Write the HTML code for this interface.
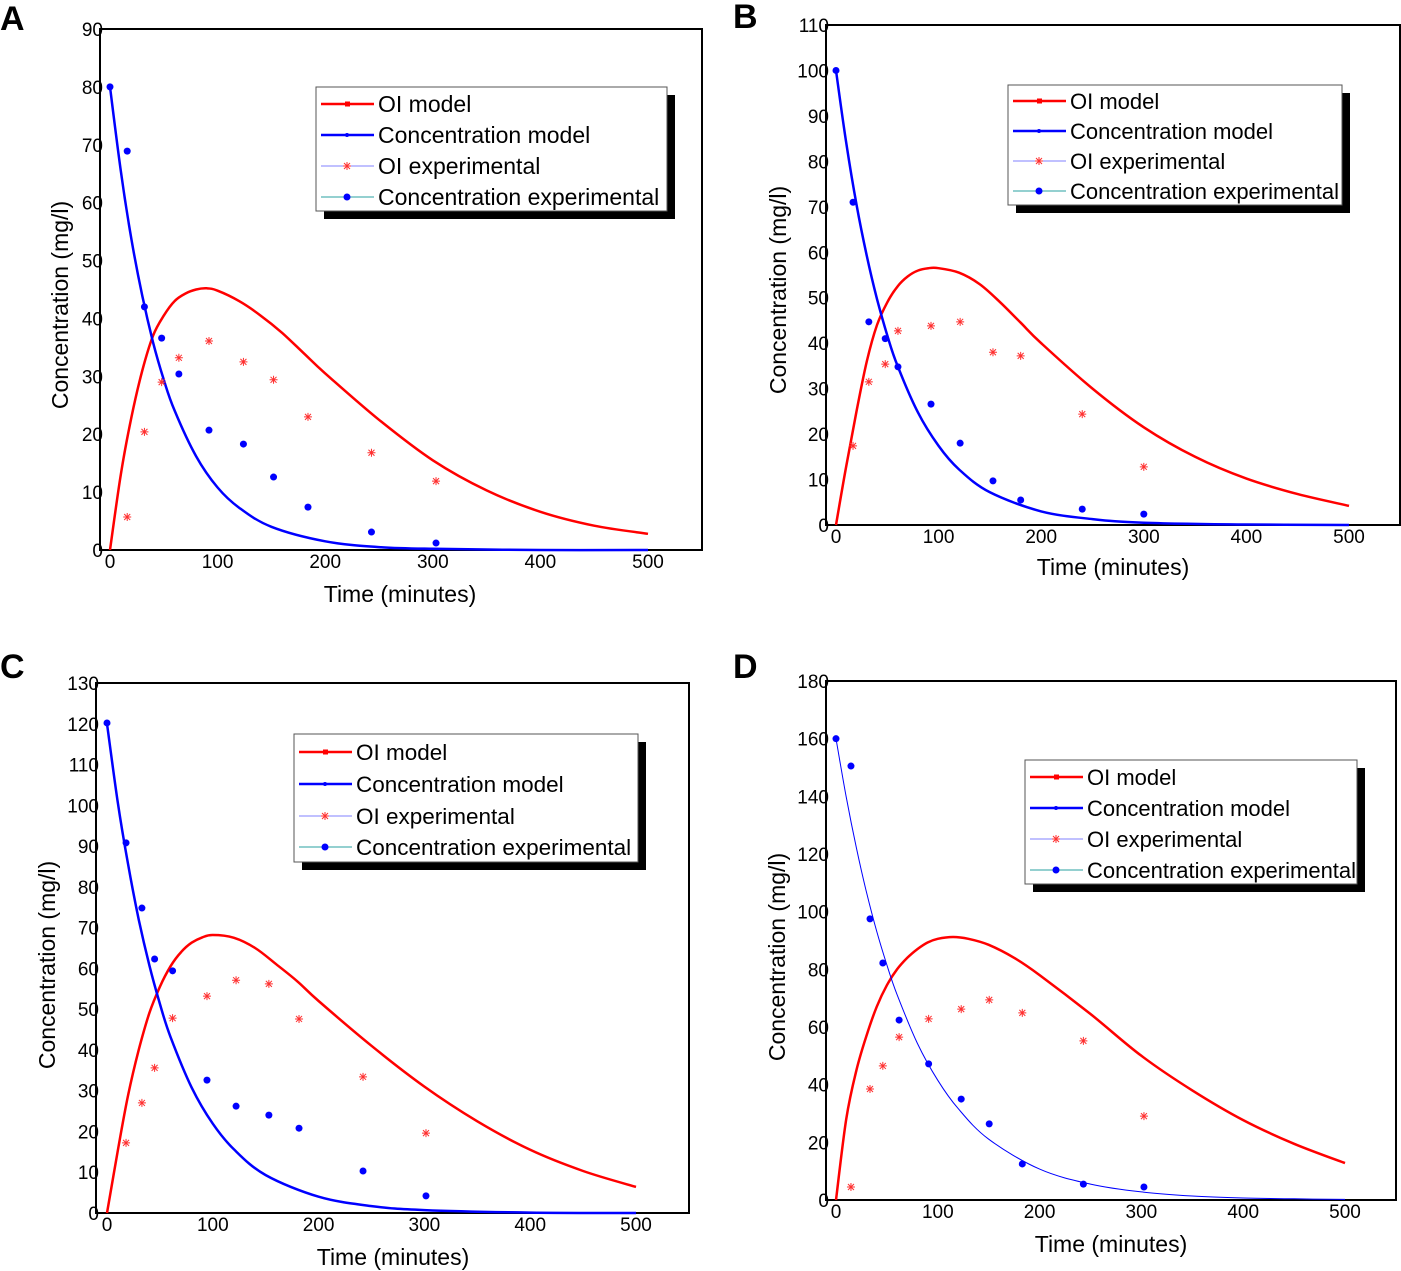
<!DOCTYPE html>
<html><head><meta charset="utf-8"><style>
html,body{margin:0;padding:0;background:#fff;}
svg{display:block;font-family:"Liberation Sans",Arial,sans-serif;}
</style></head><body>
<svg id="fig" width="1401" height="1271" viewBox="0 0 1401 1271" xmlns="http://www.w3.org/2000/svg"></svg>
<script>
// ---- data ----
const tickX = [0,100,200,300,400,500];
const expTimesA = [0,16,32,48,64,92,124,152,184,243,303];
const concExpA = [80,68.9,42,36.6,30.4,20.7,18.3,12.6,7.4,3.1,1.2];
const oiExpTimesA = [16,32,48,64,92,124,152,184,243,303];
const oiExpA = [5.7,20.4,29,33.2,36.1,32.5,29.4,23,16.8,11.9];
const modelTimesA = [0,10,20,30,40,50,60,70,80,90,100,120,140,160,180,200,250,300,350,400,450,500];
const oiModelA = [0,13,23,31,37,40.5,43,44.3,45,45.2,44.8,43,40.5,37.5,34,30.5,22.5,15.5,10.3,6.6,4.2,2.8];
const concTimesA = [0,10,20,30,40,50,60,80,100,120,150,200,250,300,400,500];
const concModelA = [80,65.5,53.6,43.9,35.9,29.4,24.1,16.2,10.8,7.3,4,1.5,0.5,0.2,0,0];

const expTimesB = [0,16.6,32,48,60.4,92.6,121,153,180,240,300];
const concExpB = [100,71,44.7,41,34.8,26.6,18,9.7,5.5,3.5,2.4];
const oiExpTimesB = [16.6,32,48,60.4,92.6,121,153,180,240,300];
const oiExpB = [17.4,31.5,35.4,42.7,43.8,44.7,38,37.2,24.4,12.8];
const modelTimesB = [0,10,20,30,40,50,60,70,80,90,100,120,140,160,180,200,250,300,350,400,450,500];
const oiModelB = [0,13,25,36,44,49,52.5,54.7,56,56.5,56.5,55.5,53,49,44.5,40,30,21.5,15,10.2,6.8,4.2];
const concTimesB = [0,10,20,30,40,50,60,80,100,120,150,200,250,300,400,500];
const concModelB = [100,84,70.5,59.2,49.7,41.7,35,24.7,17.4,12.2,7.2,3,1.3,0.5,0.1,0];

const expTimesC = [0,18,33,45,62,94.5,122,153,181.5,242,301.5];
const concExpC = [120.2,90.8,74.8,62.3,59.4,32.6,26.2,24,20.8,10.3,4.2];
const oiExpTimesC = [18,33,45,62,94.5,122,153,181.5,242,301.5];
const oiExpC = [17.2,27,35.6,47.8,53.2,57.1,56.2,47.6,33.4,19.6];
const modelTimesC = [0,10,20,30,40,50,60,70,80,90,100,120,140,160,180,200,250,300,350,400,450,500];
const oiModelC = [0,15,29,40,49,55.5,60.5,64,66.3,67.6,68.2,67.5,65,61,56.8,52,41,31,22.5,15.5,10.3,6.4];
const concTimesC = [0,10,20,30,40,50,60,80,100,120,150,200,250,300,400,500];
const concModelC = [120,101,85.4,72,60.8,51.3,43.2,30.8,21.9,15.6,9.3,4,1.7,0.7,0.1,0];

const expTimesD = [0,14.7,33.4,46,62,91,123,150.5,183,243,302.5];
const concExpD = [160,150.5,97.5,82.2,62.4,47.2,35,26.4,12.5,5.5,4.5];
const oiExpTimesD = [14.7,33.4,46,62,91,123,150.5,183,243,302.5];
const oiExpD = [4.5,38.5,46.5,56.5,62.8,66.2,69.4,64.9,55.2,29.1];
const modelTimesD = [0,10,20,30,40,50,60,70,80,90,100,115,130,150,175,200,250,300,350,400,450,500];
const oiModelD = [0,28,45,57,67,74.5,80,84,87,89.3,90.6,91.2,90.6,88.5,84,78,64.5,50,38,27.7,19.5,12.8];
const concTimesD = [0,10,20,30,40,50,60,80,100,120,150,200,250,300,350,400,450,500];
const concModelD = [160,139.8,122.1,106.7,93.2,81.5,71.2,54.3,41.5,31.7,21.1,10.7,5.5,2.8,1.4,0.7,0.4,0.2];

const yTicksA = [0,10,20,30,40,50,60,70,80,90];
const yTicksB = [0,10,20,30,40,50,60,70,80,90,100,110];
const yTicksC = [0,10,20,30,40,50,60,70,80,90,100,110,120,130];
const yTicksD = [0,20,40,60,80,100,120,140,160,180];
const legendLabels = ["OI model","Concentration model","OI experimental","Concentration experimental"];

const NS = "http://www.w3.org/2000/svg";
const svg = document.getElementById('fig');
function mk(tag, attrs, parent){
  const e = document.createElementNS(NS, tag);
  for (const k in attrs) e.setAttribute(k, attrs[k]);
  (parent||svg).appendChild(e);
  return e;
}
function smoothPath(pts){
  let d = "M"+pts[0][0].toFixed(1)+","+pts[0][1].toFixed(1);
  for (let i=0;i<pts.length-1;i++){
    const p0=pts[Math.max(i-1,0)], p1=pts[i], p2=pts[i+1], p3=pts[Math.min(i+2,pts.length-1)];
    const c1x=p1[0]+(p2[0]-p0[0])/6, c1y=p1[1]+(p2[1]-p0[1])/6;
    const c2x=p2[0]-(p3[0]-p1[0])/6, c2y=p2[1]-(p3[1]-p1[1])/6;
    d += " C"+c1x.toFixed(1)+","+c1y.toFixed(1)+" "+c2x.toFixed(1)+","+c2y.toFixed(1)+" "+p2[0].toFixed(1)+","+p2[1].toFixed(1);
  }
  return d;
}
function star(g,x,y){
  const s=4, path="M"+(x-s)+","+y+"H"+(x+s)+"M"+x+","+(y-s)+"V"+(y+s)+"M"+(x-s*0.75)+","+(y-s*0.75)+"L"+(x+s*0.75)+","+(y+s*0.75)+"M"+(x-s*0.75)+","+(y+s*0.75)+"L"+(x+s*0.75)+","+(y-s*0.75);
  return mk('path',{d:path,stroke:'#ff3030','stroke-width':1,fill:'none'},g);
}

function panel(cfg){
  const g = mk('g',{});
  
  
  const sx = t => cfg.x0 + (cfg.x500 - cfg.x0)*t/500;
  const sy = v => cfg.yb - (cfg.yb - cfg.yt)*v/cfg.ymax;
  const L = mk('text',{x:cfg.lx,y:cfg.ly,'font-size':34,'font-weight':'bold'},g);
  L.textContent = cfg.letter;
  
  
  const box = mk('rect',{x:cfg.bl,y:cfg.yt,width:cfg.br-cfg.bl,height:cfg.yb-cfg.yt,fill:'none',stroke:'#000','stroke-width':2},g);
  
  
  tickX.forEach(t=>{
    const e = mk('text',{x:sx(t),y:cfg.yb+18,'font-size':19,'text-anchor':'middle'},g);
    e.textContent = t;
    
    
  });
  cfg.yt_.forEach(v=>{
    const e = mk('text',{x:cfg.bl+3,y:sy(v)+7,'font-size':19,'text-anchor':'end'},g);
    e.textContent = v;
    
    
  });
  const xt = mk('text',{x:cfg.xtx,y:cfg.xty,'font-size':23,'text-anchor':'middle'},g);
  xt.textContent = "Time (minutes)";
  
  
  const yt = mk('text',{x:0,y:0,'font-size':23,'text-anchor':'middle',transform:'translate('+cfg.ytx+','+cfg.yty+') rotate(-90)'},g);
  yt.textContent = "Concentration (mg/l)";
  
  
  const oi = mk('path',{d:smoothPath(cfg.mT.map((t,i)=>[sx(t),sy(cfg.oiM[i])])),stroke:'#ff0000','stroke-width':2.5,fill:'none'},g);
  
  
  const cm = mk('path',{d:smoothPath(cfg.cT.map((t,i)=>[sx(t),sy(cfg.cM[i])])),stroke:'#0000ff','stroke-width':cfg.thin?1:2.5,fill:'none'},g);
  
  
  cfg.oT.forEach((t,i)=>{
    const s = star(g,sx(t),sy(cfg.oE[i]));
    
    
  });
  cfg.eT.forEach((t,i)=>{
    const c = mk('circle',{cx:sx(t),cy:sy(cfg.cE[i]),r:3.5,fill:'#0000ff'},g);
    
    
  });
  const lg = mk('g',{},g);
  
  
  const [x1,y1,x2,y2] = cfg.leg;
  mk('rect',{x:x1+8,y:y1+8,width:x2-x1,height:y2-y1,fill:'#000'},lg);
  mk('rect',{x:x1,y:y1,width:x2-x1,height:y2-y1,fill:'#fff',stroke:'#555','stroke-width':1},lg);
  const styles = [['#ff0000',2.5],['#0000ff',2.5],['#8080ff',1],['#70c0c0',1.5]];
  legendLabels.forEach((lab,i)=>{
    const ey = cfg.legY[i];
    const e = mk('g',{},lg);
    
    
    mk('line',{x1:x1+5,x2:x1+58,y1:ey,y2:ey,stroke:styles[i][0],'stroke-width':styles[i][1]},e);
    if(i===0) mk('rect',{x:x1+29,y:ey-2.5,width:5,height:5,fill:'#ff0000'},e);
    if(i===1) mk('circle',{cx:x1+31,cy:ey,r:2,fill:'#0000ff'},e);
    if(i===2) star(e,x1+31,ey);
    if(i===3) mk('circle',{cx:x1+31,cy:ey,r:3.5,fill:'#0000ff'},e);
    const t = mk('text',{x:x1+62,y:ey+8,'font-size':cfg.lfs},e);
    t.textContent = lab;
  });
}

panel({letter:'A',lx:0,ly:30,bl:100,br:702,yt:29,yb:550,x0:110,x500:648,ymax:90,yt_:yTicksA,
  xtx:400,xty:602,ytx:68,yty:305,mT:modelTimesA,oiM:oiModelA,cT:concTimesA,cM:concModelA,
  oT:oiExpTimesA,oE:oiExpA,eT:expTimesA,cE:concExpA,leg:[316,87,667,211],legY:[104,135,166,197],lfs:23});
panel({letter:'B',lx:733,ly:28,bl:826,br:1400,yt:25,yb:525,x0:836,x500:1349,ymax:110,yt_:yTicksB,
  xtx:1113,xty:575,ytx:786,yty:290,mT:modelTimesB,oiM:oiModelB,cT:concTimesB,cM:concModelB,
  oT:oiExpTimesB,oE:oiExpB,eT:expTimesB,cE:concExpB,leg:[1008,85,1342,205],legY:[101,131,161,191],lfs:22});
panel({letter:'C',lx:0,ly:678,bl:96,br:689,yt:683,yb:1213,x0:107,x500:636,ymax:130,yt_:yTicksC,
  xtx:393,xty:1265,ytx:55,yty:965,mT:modelTimesC,oiM:oiModelC,cT:concTimesC,cM:concModelC,
  oT:oiExpTimesC,oE:oiExpC,eT:expTimesC,cE:concExpC,leg:[294,734,638,862],legY:[752,784,816,847],lfs:22.5});
panel({letter:'D',lx:733,ly:678,bl:826,br:1396,yt:681,yb:1200,x0:836,x500:1345,ymax:180,yt_:yTicksD,
  xtx:1111,xty:1252,ytx:785,yty:957,mT:modelTimesD,oiM:oiModelD,cT:concTimesD,cM:concModelD,thin:true,
  oT:oiExpTimesD,oE:oiExpD,eT:expTimesD,cE:concExpD,leg:[1025,760,1357,884],legY:[777,808,839,870],lfs:22});
</script>
</body></html>
